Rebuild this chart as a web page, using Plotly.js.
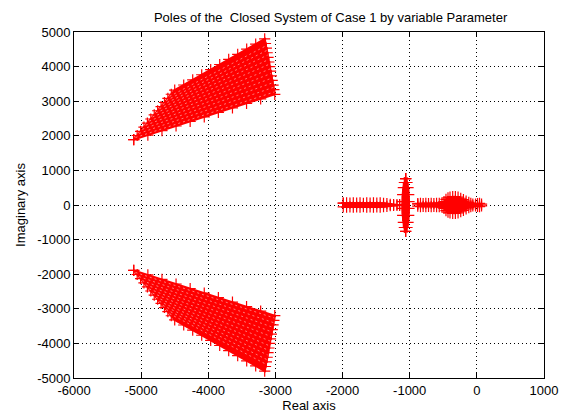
<!DOCTYPE html>
<html>
<head>
<meta charset="utf-8">
<script src="https://cdn.plot.ly/plotly-3.0.1.min.js"></script>
<style>
  html, body { margin: 0; padding: 0; background: #fff; }
  #chart { width: 566px; height: 414px; }
</style>
</head>
<body>
<div id="chart"></div>
<script>
// ---- Data (pole locations) ----
const xTickVals = [-6000, -5000, -4000, -3000, -2000, -1000, 0, 1000];
const xTickText = ["-6000", "-5000", "-4000", "-3000", "-2000", "-1000", "0", "1000"];
const yTickVals = [-5000, -4000, -3000, -2000, -1000, 0, 1000, 2000, 3000, 4000, 5000];
const yTickText = ["-5000", "-4000", "-3000", "-2000", "-1000", "0", "1000", "2000", "3000", "4000", "5000"];

// Outline of the upper complex pole cloud (bottom edge, right edge, top edge, left edge)
const upperEdgeX = [-5110, -4900, -4690, -4480, -4270, -4060, -3850, -3640, -3430, -3220, -3010,
  -3023, -3035, -3048, -3060, -3073, -3085, -3098, -3110, -3123, -3135, -3148, -3160,
  -3294, -3428, -3562, -3696, -3830, -3964, -4098, -4232, -4366, -4500,
  -4551, -4602, -4653, -4703, -4754, -4805, -4856, -4907, -4958, -5008, -5059, -5110];
const upperEdgeY = [1890, 2021, 2152, 2283, 2414, 2545, 2676, 2807, 2938, 3069, 3200,
  3333, 3467, 3600, 3733, 3867, 4000, 4133, 4267, 4400, 4533, 4667, 4800,
  4652, 4504, 4356, 4208, 4060, 3912, 3764, 3616, 3468, 3320,
  3201, 3082, 2963, 2844, 2724, 2605, 2486, 2367, 2248, 2128, 2009, 1890];
// Outline of the lower (conjugate) pole cloud
const lowerEdgeX = upperEdgeX;
const lowerEdgeY = [-1890, -2021, -2152, -2283, -2414, -2545, -2676, -2807, -2938, -3069, -3200,
  -3333, -3467, -3600, -3733, -3867, -4000, -4133, -4267, -4400, -4533, -4667, -4800,
  -4652, -4504, -4356, -4208, -4060, -3912, -3764, -3616, -3468, -3320,
  -3201, -3082, -2963, -2844, -2724, -2605, -2486, -2367, -2248, -2128, -2009, -1890];

// Gaps between locus branches inside the clouds (light streaks)
const streakX = [
  [-5084, -4568, -4050, -3534, -3017],
  [-5033, -4533, -4032, -3530, -3029],
  [-4983, -4498, -4013, -3527, -3042],
  [-4932, -4463, -3994, -3524, -3054],
  [-4881, -4428, -3975, -3521, -3067],
  [-4830, -4393, -3955, -3517, -3079],
  [-4780, -4358, -3936, -3514, -3092],
  [-4729, -4323, -3917, -3510, -3104],
  [-4678, -4288, -3898, -3507, -3117],
  [-4627, -4253, -3879, -3504, -3129],
  [-4576, -4218, -3860, -3501, -3142]
];
const streakUpperY = [
  [1950, 2279, 2608, 2938, 3267],
  [2069, 2402, 2735, 3067, 3400],
  [2188, 2525, 2861, 3197, 3533],
  [2307, 2648, 2987, 3327, 3667],
  [2426, 2770, 3114, 3457, 3800],
  [2546, 2893, 3240, 3586, 3933],
  [2665, 3015, 3366, 3716, 4067],
  [2784, 3138, 3492, 3846, 4200],
  [2903, 3261, 3619, 3976, 4333],
  [3022, 3384, 3745, 4106, 4467],
  [3142, 3507, 3871, 4236, 4600]
];
const streakLowerY = [
  [-1950, -2279, -2608, -2938, -3267],
  [-2069, -2402, -2735, -3067, -3400],
  [-2188, -2525, -2861, -3197, -3533],
  [-2307, -2648, -2987, -3327, -3667],
  [-2426, -2770, -3114, -3457, -3800],
  [-2546, -2893, -3240, -3586, -3933],
  [-2665, -3015, -3366, -3716, -4067],
  [-2784, -3138, -3492, -3846, -4200],
  [-2903, -3261, -3619, -3976, -4333],
  [-3022, -3384, -3745, -4106, -4467],
  [-3142, -3507, -3871, -4236, -4600]
];

// Near-real-axis poles: envelope of the pole cloud
const bandX    = [-1990, -1940, -1890, -1840, -1790, -1740, -1690, -1640, -1590, -1540, -1490, -1440, -1390, -1340, -1290, -1240, -1190, -1150];
const bandTopY = [55, 60, 55, 60, 55, 60, 45, 60, 55, 60, 55, 60, 50, 40, 20, 15, 15, 10];
const bandBotY = [-55, -60, -55, -60, -55, -60, -45, -60, -55, -60, -55, -60, -50, -40, -20, -15, -15, -10];

const spindleY      = [760, 650, 500, 300, 100, -100, -300, -500, -650, -760];
const spindleRightX = [-1060, -1040, -1025, -1015, -1010, -1010, -1015, -1025, -1040, -1060];
const spindleLeftX  = [-1060, -1080, -1095, -1105, -1110, -1110, -1105, -1095, -1080, -1060];

const blobX    = [-880, -840, -800, -760, -720, -680, -640, -600, -560, -520, -490, -460, -430, -400, -360, -320, -280, -240, -200, -160, -120, -90, -60, -20, 10, 40, 70];
const blobTopY = [35, 45, 40, 45, 40, 45, 40, 45, 45, 60, 100, 160, 205, 230, 240, 240, 225, 195, 155, 115, 75, 45, 25, 25, 40, 45, 25];
const blobBotY = [-35, -45, -40, -45, -40, -45, -40, -45, -45, -60, -100, -160, -205, -230, -240, -240, -225, -195, -155, -115, -75, -45, -25, -25, -40, -45, -25];

// ---- Build traces ----
const RED = '#ff0000';
const mk = { symbol: 'cross-thin', size: 8, color: RED, line: { color: RED, width: 1.2 } };
const traces = [];

function addCloud(x, y) {
  traces.push({
    type: 'scatter', mode: 'lines+markers', x: x, y: y,
    fill: 'toself', fillcolor: RED,
    line: { color: RED, width: 2 }, marker: mk, hoverinfo: 'skip'
  });
}
function addStreaks(xs, ys) {
  for (let i = 0; i < xs.length; i++) {
    traces.push({
      type: 'scatter', mode: 'lines', x: xs[i], y: ys[i],
      line: { color: 'rgba(255,255,255,0.6)', width: 0.8, dash: '2px,3px' }, hoverinfo: 'skip'
    });
  }
}
addCloud(upperEdgeX, upperEdgeY);
addCloud(lowerEdgeX, lowerEdgeY);
addStreaks(streakX, streakUpperY);
addStreaks(streakX, streakLowerY);

function addEnvelope(xTop, yTop, xBot, yBot) {
  const x = xTop.concat(xBot.slice().reverse());
  const y = yTop.concat(yBot.slice().reverse());
  x.push(x[0]); y.push(y[0]);
  addCloud(x, y);
}
addEnvelope(bandX, bandTopY, bandX, bandBotY);
addEnvelope(blobX, blobTopY, blobX, blobBotY);
addEnvelope(spindleRightX, spindleY, spindleLeftX, spindleY);

const FONT = 'Liberation Sans, Arial, Helvetica, sans-serif';
const axisCommon = {
  showline: true, linecolor: '#000', linewidth: 1, mirror: 'ticks',
  ticks: 'inside', ticklen: 5, tickwidth: 1, tickcolor: '#000',
  showgrid: true, gridcolor: '#000', gridwidth: 1, griddash: '1px,3px',
  zeroline: false, tickfont: { family: FONT, size: 13, color: '#000' },
  fixedrange: true
};

const layout = {
  width: 566, height: 414,
  margin: { l: 74, r: 22, t: 32, b: 36, pad: 0 },
  paper_bgcolor: '#fff', plot_bgcolor: '#fff',
  showlegend: false,
  font: { family: FONT, size: 13, color: '#000' },
  title: {
    text: 'Poles of the \u00a0Closed System of Case 1 by variable Parameter',
    font: { family: FONT, size: 13, color: '#000' },
    x: 309 / 566, xanchor: 'center', xref: 'paper',
    y: 1 - 17 / 414, yanchor: 'middle', yref: 'container'
  },
  xaxis: Object.assign({}, axisCommon, {
    range: [-6000, 1000], tickmode: 'array', tickvals: xTickVals, ticktext: xTickText,
    title: { text: 'Real axis', font: { family: FONT, size: 13, color: '#000' }, standoff: 4 }
  }),
  yaxis: Object.assign({}, axisCommon, {
    range: [-5000, 5000], tickmode: 'array', tickvals: yTickVals, ticktext: yTickText,
    title: { text: 'Imaginary axis', font: { family: FONT, size: 13, color: '#000' }, standoff: 8 }
  })
};

Plotly.newPlot('chart', traces, layout, { staticPlot: true, displayModeBar: false });
</script>
</body>
</html>
